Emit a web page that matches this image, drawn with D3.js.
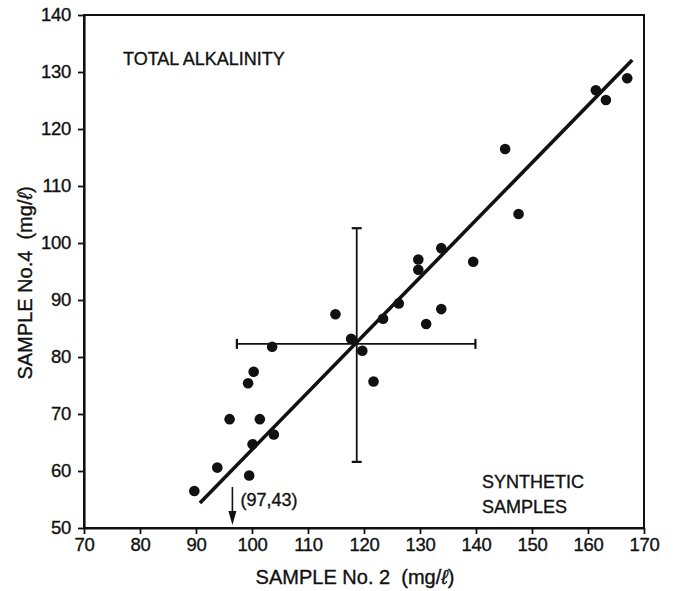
<!DOCTYPE html>
<html>
<head>
<meta charset="utf-8">
<script src="https://cdn.jsdelivr.net/npm/d3@7/dist/d3.min.js"></script>
<style>
  html, body { margin: 0; padding: 0; background: #fff; }
  svg text { font-family: "Liberation Sans", Arial, Helvetica, sans-serif; fill: #111; stroke: #111; stroke-width: 0.35px; }
</style>
</head>
<body>
<svg id="chart" width="675" height="591"></svg>
<script>
// ---- Data ----
const sample2 = [89.7, 93.8, 96.0, 99.3, 100.3, 99.5, 100.1, 101.4, 103.9, 103.6,
                 114.9, 117.7, 119.7, 121.7, 123.4, 126.2, 129.7, 129.7, 131.1, 133.8,
                 133.8, 139.5, 145.2, 147.6, 161.4, 163.2, 167.0];
const sample4 = [56.5, 60.6, 69.1, 75.4, 77.4, 59.2, 64.7, 69.1, 66.4, 81.8,
                 87.5, 83.2, 81.1, 75.7, 86.7, 89.4, 97.1, 95.3, 85.8, 99.1,
                 88.4, 96.7, 116.5, 105.1, 126.8, 125.1, 128.9];
const fitLineX = [90.7, 167.9];
const fitLineY = [54.4, 132.1];
const meanX = 118.7, meanY = 82.3;
const errX = [97.3, 139.9];     // horizontal bar extent (sample 2)
const errY = [61.6, 102.6];     // vertical bar extent (sample 4)
const outlierX = 96.5;           // arrow for off-scale point (97,43)
const outlierLabel = "(97,43)";
const xTicks = [70, 80, 90, 100, 110, 120, 130, 140, 150, 160, 170];
const yTicks = [50, 60, 70, 80, 90, 100, 110, 120, 130, 140];

// ---- Layout ----
const svg = d3.select("#chart");
const x = d3.scaleLinear().domain([70, 170]).range([84, 644]);
const y = d3.scaleLinear().domain([50, 140]).range([528, 15]);

// Frame
svg.append("rect")
  .attr("x", x(70)).attr("y", y(140))
  .attr("width", x(170) - x(70)).attr("height", y(50) - y(140))
  .attr("fill", "none").attr("stroke", "#111").attr("stroke-width", 2);

// Axes
const xAxis = svg.append("g")
  .attr("transform", `translate(0,${y(50)})`)
  .call(d3.axisBottom(x).tickValues(xTicks).tickSize(6).tickSizeOuter(0).tickPadding(4));
const yAxis = svg.append("g")
  .attr("transform", `translate(${x(70)},0)`)
  .call(d3.axisLeft(y).tickValues(yTicks).tickSize(6).tickSizeOuter(0).tickPadding(7));
[xAxis, yAxis].forEach(g => {
  g.select(".domain").attr("stroke", "#111").attr("stroke-width", 2.2);
  g.selectAll(".tick line").attr("stroke", "#111").attr("stroke-width", 1.8);
  g.selectAll(".tick text").style("font-size", "18.5px").style("font-family", '"Liberation Sans", Arial, sans-serif')
    .attr("fill", "#111").style("letter-spacing", "-0.3px");
});

// Regression line
svg.append("line")
  .attr("x1", x(fitLineX[0])).attr("y1", y(fitLineY[0]))
  .attr("x2", x(fitLineX[1])).attr("y2", y(fitLineY[1]))
  .attr("stroke", "#111").attr("stroke-width", 3.6);

// Error cross
const eb = svg.append("g").attr("stroke", "#111").attr("stroke-width", 1.8);
eb.append("line").attr("x1", x(meanX)).attr("x2", x(meanX)).attr("y1", y(errY[0])).attr("y2", y(errY[1]));
eb.append("line").attr("x1", x(errX[0])).attr("x2", x(errX[1])).attr("y1", y(meanY)).attr("y2", y(meanY));
errY.forEach(v => eb.append("line").attr("x1", x(meanX) - 5).attr("x2", x(meanX) + 5).attr("y1", y(v)).attr("y2", y(v)).attr("stroke-width", 2.2));
errX.forEach(v => eb.append("line").attr("x1", x(v)).attr("x2", x(v)).attr("y1", y(meanY) - 5).attr("y2", y(meanY) + 5).attr("stroke-width", 2.2));

// Points
const pts = sample2.map((d, i) => ({ x: d, y: sample4[i] }));
svg.append("g").selectAll("circle").data(pts).join("circle")
  .attr("cx", d => x(d.x)).attr("cy", d => y(d.y)).attr("r", 5.3)
  .attr("fill", "#111");

// Off-scale arrow
const ax = x(outlierX);
svg.append("line").attr("x1", ax).attr("x2", ax).attr("y1", 487).attr("y2", 515)
  .attr("stroke", "#111").attr("stroke-width", 1.6);
svg.append("path")
  .attr("d", `M${ax - 4},${511} L${ax + 4},${511} L${ax},${525} Z`)
  .attr("fill", "#111");
svg.append("text").attr("x", ax + 8).attr("y", 506).style("font-size", "18px").text(outlierLabel);

// Annotations
svg.append("text").attr("x", 123).attr("y", 65).style("font-size", "18px").text("TOTAL ALKALINITY");
svg.append("text").attr("x", 482).attr("y", 488).style("font-size", "18px").text("SYNTHETIC");
svg.append("text").attr("x", 482).attr("y", 513).style("font-size", "18px").text("SAMPLES");

// Axis titles
const xt = svg.append("text").attr("x", 355).attr("y", 584).attr("text-anchor", "middle").style("font-size", "20px");
xt.append("tspan").text("SAMPLE No. 2\u00a0\u00a0(mg/");
xt.append("tspan").style("font-style", "italic").text("ℓ");
xt.append("tspan").text(")");
const yt = svg.append("text").attr("transform", "translate(32,283) rotate(-90)").attr("text-anchor", "middle").style("font-size", "20px");
yt.append("tspan").text("SAMPLE No.4\u00a0\u00a0(mg/");
yt.append("tspan").style("font-style", "italic").text("ℓ");
yt.append("tspan").text(")");
</script>
</body>
</html>
